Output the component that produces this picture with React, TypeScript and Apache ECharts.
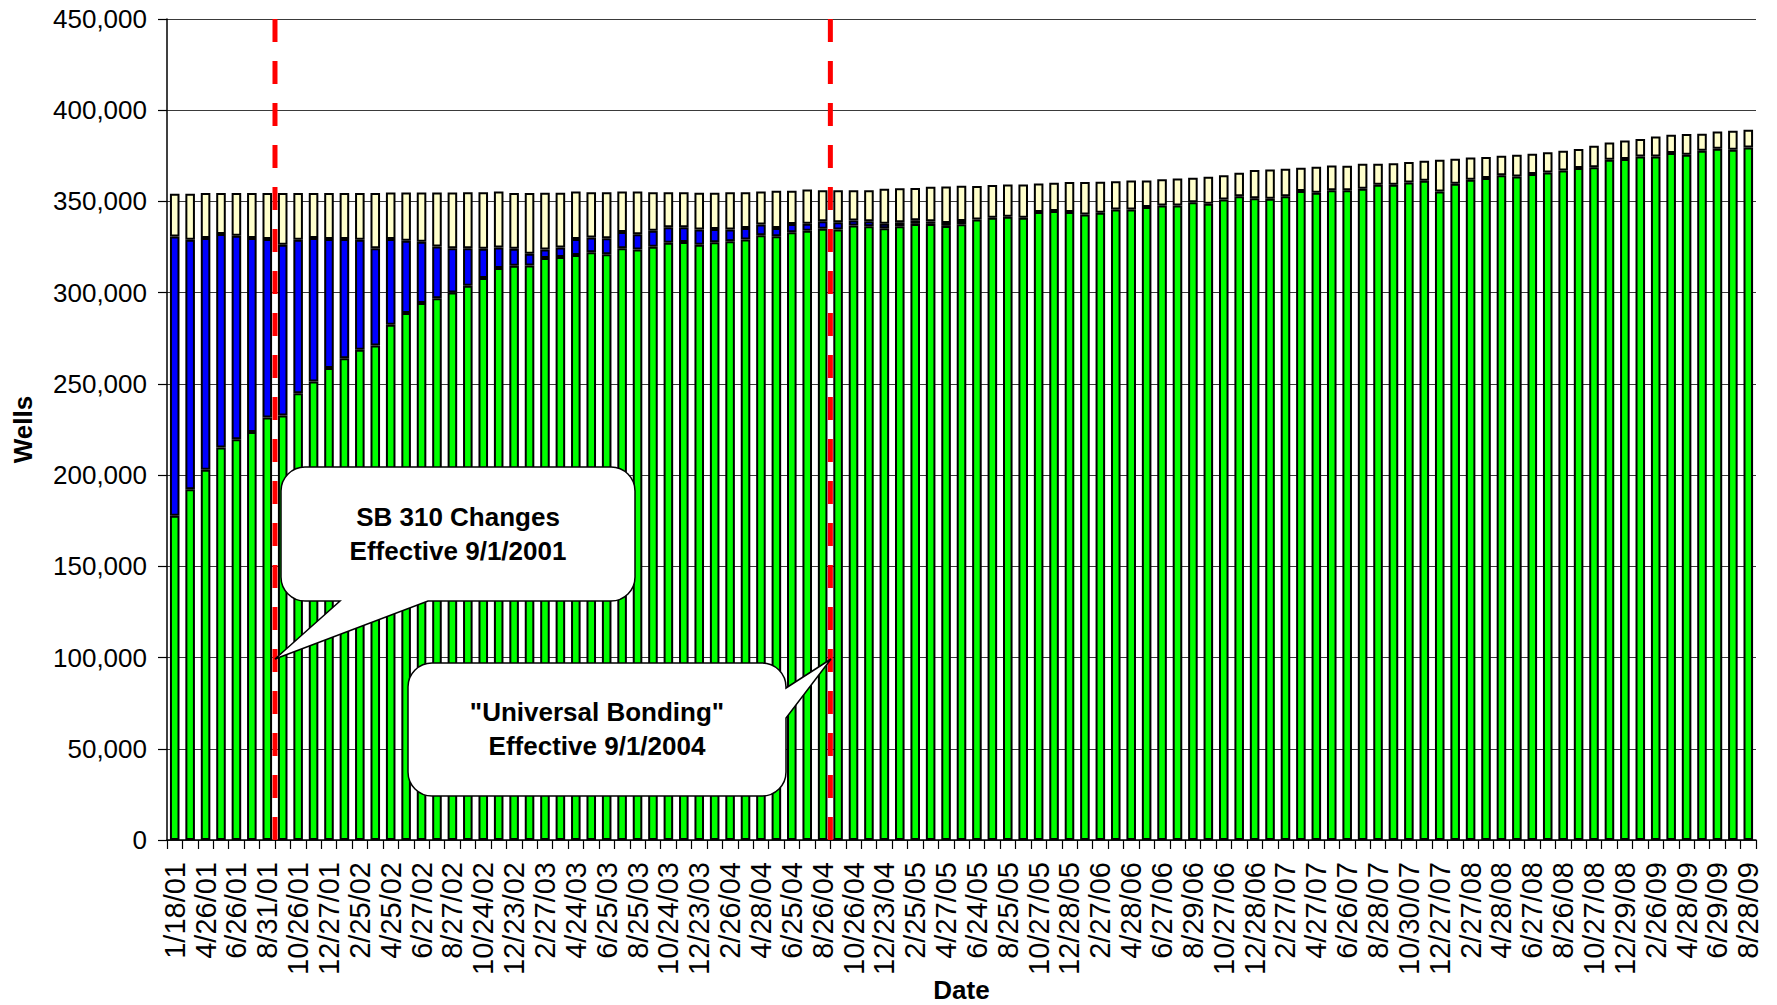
import React, { useEffect, useRef } from 'react';
import * as echarts from 'echarts';

// ---------- DATA ----------
const tickLabels = [
  '1/18/01', '4/26/01', '6/26/01', '8/31/01', '10/26/01', '12/27/01',
  '2/25/02', '4/25/02', '6/27/02', '8/27/02', '10/24/02', '12/23/02',
  '2/27/03', '4/24/03', '6/25/03', '8/25/03', '10/24/03', '12/23/03',
  '2/26/04', '4/28/04', '6/25/04', '8/26/04', '10/26/04', '12/23/04',
  '2/25/05', '4/27/05', '6/24/05', '8/25/05', '10/27/05', '12/28/05',
  '2/27/06', '4/28/06', '6/27/06', '8/29/06', '10/27/06', '12/28/06',
  '2/27/07', '4/27/07', '6/26/07', '8/28/07', '10/30/07', '12/27/07',
  '2/27/08', '4/28/08', '6/27/08', '8/26/08', '10/27/08', '12/29/08',
  '2/26/09', '4/28/09', '6/29/09', '8/28/09',
];

// unlabelled bars between the labelled ones (month/year)
const midMonths = [
  '3/01', '5/01', '7/01', '9/01', '11/01',
  '1/02', '3/02', '5/02', '7/02', '9/02', '11/02',
  '1/03', '3/03', '5/03', '7/03', '9/03', '11/03',
  '1/04', '3/04', '5/04', '7/04', '9/04', '11/04',
  '1/05', '3/05', '5/05', '7/05', '9/05', '11/05',
  '1/06', '3/06', '5/06', '7/06', '9/06', '11/06',
  '1/07', '3/07', '5/07', '7/07', '9/07', '11/07',
  '1/08', '3/08', '5/08', '7/08', '9/08', '11/08',
  '1/09', '3/09', '5/09', '7/09',
];

const greenWells = [
  177700, 192300, 202900, 215200, 219700, 223600, 231600, 232700, 244900, 251300,
  258700, 264100, 268700, 271100, 282400, 288800, 294300, 297000, 300100, 303800,
  308000, 313500, 314700, 314900, 319000, 319600, 320700, 322100, 321000, 324300,
  323600, 325100, 327300, 327800, 326300, 327600, 328200, 329100, 331500, 330900,
  333100, 334000, 335100, 334600, 336800, 336400, 335300, 336400, 337700, 337700,
  336600, 337500, 340100, 341000, 341600, 341000, 344200, 344700, 344200, 342900,
  343800, 345600, 345600, 346900, 347800, 347800, 349600, 348700, 351100, 352900,
  351800, 351500, 352900, 355700, 354800, 356200, 356100, 357000, 359100, 359100,
  360400, 361300, 355500, 359700, 361900, 362800, 364300, 363700, 365000, 365900,
  367000, 368300, 368800, 372800, 373200, 374700, 374700, 376500, 375600, 377800,
  378900, 378300, 379600,
];

const blueWells = [
  153100, 136700, 127000, 116900, 111500, 106300, 97800, 93500, 84100, 78600,
  70700, 65300, 60300, 53300, 47000, 39600, 33600, 28300, 24300, 20600,
  16100, 11300, 9400, 6400, 4700, 5200, 8700, 8100, 8800, 9000,
  8400, 8900, 8500, 8000, 8300, 7300, 6400, 6400, 5800, 4600,
  4600, 3800, 4000, 4000, 2700, 2700, 2500, 2200, 2000, 1400,
  1600, 1800, 0, 0, 0, 0, 0, 0, 0, 0,
  0, 0, 0, 0, 0, 0, 0, 0, 0, 0,
  0, 0, 0, 0, 0, 0, 0, 0, 0, 0,
  0, 0, 0, 0, 0, 0, 0, 0, 0, 0,
  0, 0, 0, 0, 0, 0, 0, 0, 0, 0,
  0, 0, 0,
];

const creamWells = [
  23400, 25200, 24700, 22500, 23400, 24700, 25200, 28400, 25600, 24700,
  25200, 25200, 25600, 30200, 25500, 26500, 27000, 29600, 30500, 30700,
  31000, 30700, 30500, 33300, 31100, 29900, 26000, 24800, 25200, 22100,
  23400, 21000, 19200, 19200, 20100, 19800, 20400, 19500, 18100, 20300,
  18200, 18700, 17000, 17500, 16600, 17000, 19100, 18600, 17700, 18900,
  20000, 19300, 18300, 18000, 17700, 18300, 15700, 15500, 16400, 17700,
  17000, 15500, 15900, 14600, 14300, 14800, 13400, 14800, 13300, 12800,
  15400, 16000, 15000, 12800, 14200, 13500, 13500, 13700, 11500, 11900,
  11200, 11000, 17300, 13700, 12200, 11500, 10700, 11900, 11100, 11000,
  10800, 10400, 11700, 9500, 10200, 9500, 10900, 10000, 11300, 9300,
  9500, 10400, 9700,
];

// policy changes, placed at the boundary before the bar of that month
const eventBoundaries = [7, 43];
const eventTexts = ['SB 310 Changes\nEffective 9/1/2001', '"Universal Bonding"\nEffective 9/1/2004'];

// ---------- HELPERS ----------
const FONT = '"Liberation Sans", Arial, Helvetica, sans-serif';

const categories: string[] = [];
tickLabels.forEach((t, i) => {
  categories.push(t);
  if (i < midMonths.length) categories.push(midMonths[i]);
});

function corner(ex: number, ey: number, c1x: number, c1y: number, c2x: number, c2y: number) {
  return `C ${c1x} ${c1y} ${c2x} ${c2y} ${ex} ${ey} `;
}

type Tail = { side: 'bottom' | 'right'; a: number; b: number; tx: number; ty: number };
function calloutPath(x0: number, y0: number, x1: number, y1: number, r: number, tail: Tail) {
  const k = 0.5523 * r;
  let d = `M ${x0 + r} ${y0} L ${x1 - r} ${y0} `;
  d += corner(x1, y0 + r, x1 - r + k, y0, x1, y0 + r - k);
  if (tail.side === 'right') {
    d += `L ${x1} ${tail.a} L ${tail.tx} ${tail.ty} L ${x1} ${tail.b} `;
  }
  d += `L ${x1} ${y1 - r} `;
  d += corner(x1 - r, y1, x1, y1 - r + k, x1 - r + k, y1);
  if (tail.side === 'bottom') {
    d += `L ${tail.a} ${y1} L ${tail.tx} ${tail.ty} L ${tail.b} ${y1} `;
  }
  d += `L ${x0 + r} ${y1} `;
  d += corner(x0, y1 - r, x0 + r - k, y1, x0, y1 - r + k);
  d += `L ${x0} ${y0 + r} `;
  d += corner(x0 + r, y0, x0, y0 + r - k, x0 + r - k, y0);
  d += 'Z';
  return d;
}

const pathA = calloutPath(281, 467, 635, 601, 24, { side: 'bottom', a: 428, b: 340, tx: 275, ty: 659 });
const pathB = calloutPath(408, 663, 786, 796, 24, { side: 'right', a: 688, b: 718, tx: 831, ty: 659 });

echarts.graphic.registerShape('calloutA', echarts.graphic.extendPath(pathA, {}) as any);
echarts.graphic.registerShape('calloutB', echarts.graphic.extendPath(pathB, {}) as any);

const bubbleStyle = { fill: '#ffffff', stroke: '#000000', lineWidth: 1.5 };
const bubbleText = (text: string, x: number, y: number) => ({
  type: 'text',
  z: 102,
  silent: true,
  style: {
    text,
    x,
    y,
    align: 'center',
    verticalAlign: 'middle',
    fontFamily: FONT,
    fontSize: 26,
    fontWeight: 'bold',
    lineHeight: 34,
    fill: '#000000',
  },
});

const barBase = {
  type: 'bar',
  stack: 'wells',
  barWidth: '62%',
  xAxisIndex: 0,
  yAxisIndex: 0,
};

const option: any = {
  animation: false,
  backgroundColor: '#ffffff',
  grid: { left: 167, right: 21, top: 19, bottom: 165, containLabel: false, outerBoundsMode: 'none' },
  xAxis: [
    {
      type: 'category',
      data: categories,
      boundaryGap: true,
      axisLine: { show: true, lineStyle: { color: '#000', width: 1.5 } },
      axisTick: { show: true, interval: 0, length: 9, lineStyle: { color: '#000', width: 1.2 } },
      axisLabel: {
        interval: 1,
        rotate: 90,
        fontSize: 29,
        color: '#000',
        fontFamily: FONT,
        margin: 22,
      },
      name: 'Date',
      nameLocation: 'middle',
      nameGap: 137,
      nameMoveOverlap: false,
      nameTextStyle: { fontSize: 26, fontWeight: 'bold', color: '#000', fontFamily: FONT },
      splitLine: { show: false },
    },
    { type: 'value', min: 0, max: categories.length, show: false },
  ],
  yAxis: {
    type: 'value',
    min: 0,
    max: 450000,
    interval: 50000,
    axisLine: { show: true, lineStyle: { color: '#000', width: 1.5 } },
    axisTick: { show: true, length: 9, lineStyle: { color: '#000', width: 1.2 } },
    axisLabel: {
      fontSize: 26,
      color: '#000',
      fontFamily: FONT,
      margin: 20,
      formatter: (v: number) => v.toLocaleString('en-US'),
    },
    splitLine: { show: true, lineStyle: { color: '#3a3a3a', width: 1 } },
    name: 'Wells',
    nameLocation: 'middle',
    nameRotate: 90,
    nameGap: 131,
    nameMoveOverlap: false,
    nameTextStyle: { fontSize: 26, fontWeight: 'bold', color: '#000', fontFamily: FONT },
  },
  series: [
    {
      ...barBase,
      name: 'Green',
      data: greenWells,
      itemStyle: { color: '#00FF00', borderColor: '#000', borderWidth: 2 },
    },
    {
      ...barBase,
      name: 'Blue',
      data: blueWells.map((v) => (v === 0 ? '-' : v)),
      itemStyle: { color: '#0000FF', borderColor: '#000', borderWidth: 2 },
    },
    {
      ...barBase,
      name: 'Cream',
      data: creamWells,
      itemStyle: { color: '#FFFFCC', borderColor: '#000', borderWidth: 2 },
    },
    ...eventBoundaries.map((b, i) => ({
      type: 'line',
      name: `event${i}`,
      xAxisIndex: 1,
      yAxisIndex: 0,
      data: [
        [b, 0],
        [b, 450000],
      ],
      symbol: 'none',
      silent: true,
      z: 5,
      lineStyle: { color: '#FF0000', width: 5, type: [23, 19] },
    })),
  ],
  graphic: [
    { type: 'calloutA', z: 100, silent: true, style: bubbleStyle },
    bubbleText(eventTexts[0], 458, 534),
    { type: 'calloutB', z: 100, silent: true, style: bubbleStyle },
    bubbleText(eventTexts[1], 597, 729),
  ],
};

export default function App() {
  const ref = useRef<HTMLDivElement>(null);
  useEffect(() => {
    if (!ref.current) return;
    const chart = echarts.init(ref.current, null, { renderer: 'svg' });
    chart.setOption(option);
    return () => chart.dispose();
  }, []);
  return (
    <div
      ref={ref}
      style={{ position: 'fixed', left: 0, top: 0, width: 1777, height: 1005, background: '#fff' }}
    />
  );
}
